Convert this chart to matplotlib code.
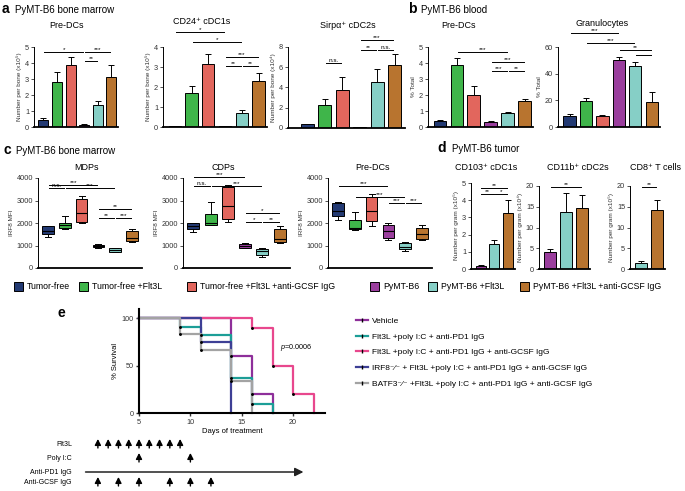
import numpy as np
import matplotlib
matplotlib.use('Agg')
import matplotlib.pyplot as plt
from matplotlib.patches import Rectangle
from matplotlib.lines import Line2D

plt.rcParams['font.family'] = ['Liberation Sans', 'DejaVu Sans']
plt.rcParams['mathtext.fontset'] = 'custom'
plt.rcParams['mathtext.rm'] = 'Liberation Sans'
plt.rcParams['mathtext.it'] = 'Liberation Sans:italic'

W, H = 685, 491

# grupos e cores
grupos = ['Tumor-free', 'Tumor-free +Flt3L', 'Tumor-free +Flt3L +anti-GCSF IgG',
          'PyMT-B6', 'PyMT-B6 +Flt3L', 'PyMT-B6 +Flt3L +anti-GCSF IgG']
cores = ['#233a73', '#3fb54a', '#e2665d', '#9a3e9d', '#86cfc6', '#b8742f']

# painel a - medula ossea (media, erro)
a_predc = [0.45, 2.8, 3.85, 0.15, 1.4, 3.15]
a_predc_err = [0.1, 0.65, 0.5, 0.05, 0.2, 0.7]
a_cd24 = [0.03, 1.68, 3.15, 0.04, 0.7, 2.28]
a_cd24_err = [0.0, 0.37, 0.5, 0.0, 0.13, 0.4]
a_sirpa = [0.35, 2.25, 3.8, 0.1, 4.5, 6.2]
a_sirpa_err = [0.05, 0.6, 1.25, 0.02, 1.3, 1.1]

# painel b - sangue
b_predc = [0.35, 3.88, 1.98, 0.33, 0.9, 1.6]
b_predc_err = [0.1, 0.42, 0.57, 0.05, 0.05, 0.15]
b_gran = [8, 19.5, 8, 50.5, 45.5, 19]
b_gran_err = [1.5, 2.5, 1, 2, 3, 7]

# painel c - IRF8 MFI (min, q1, mediana, q3, max)
c_mdp = [[1400, 1500, 1650, 1850, 1880], [1750, 1780, 1900, 2000, 2330],
         [2000, 2050, 2450, 3050, 3200], [900, 920, 980, 1030, 1050],
         [700, 730, 800, 870, 900], [1150, 1200, 1330, 1650, 1720]]
c_cdp = [[1620, 1750, 1870, 1980, 2020], [1900, 1930, 1980, 2400, 2950],
         [2050, 2200, 2750, 3600, 3680], [880, 900, 980, 1080, 1120],
         [500, 600, 750, 850, 900], [1100, 1150, 1270, 1750, 1850]]
c_predc = [[2150, 2300, 2550, 2900, 2950], [1700, 1750, 1800, 2150, 2500],
           [1850, 2100, 2550, 3150, 3300], [1250, 1350, 1650, 1900, 2000],
           [750, 850, 950, 1100, 1150], [1250, 1300, 1500, 1800, 1900]]

# painel d - tumor
d_cd103 = [0.18, 1.43, 3.25]
d_cd103_err = [0.04, 0.27, 0.75]
d_cd11b = [4.2, 13.8, 14.8]
d_cd11b_err = [0.6, 4.4, 3.1]
d_cd8 = [1.5, 14.2]
d_cd8_err = [0.5, 2.4]

# painel e - sobrevivencia
sv_nomes = ['Vehicle', 'Flt3L +poly I:C + anti-PD1 IgG',
            'Flt3L +poly I:C + anti-PD1 IgG + anti-GCSF IgG',
            'IRF8\u207b\u2044\u207b + Flt3L +poly I:C + anti-PD1 IgG + anti-GCSF IgG',
            'BATF3\u207b\u2044\u207b +Flt3L +poly I:C + anti-PD1 IgG + anti-GCSF IgG']
sv_cores = ['#8e2f9a', '#1c9e97', '#e8478d', '#3d3f95', '#a3a3a3']
sv_dias = [[5, 14, 16, 18], [5, 9, 11, 14, 16, 18], [5, 16, 18, 20, 22],
           [5, 11, 14], [5, 9, 11, 14, 16]]
sv_pct = [[100, 60, 20, 0], [100, 90.9, 81.8, 36.4, 9.1, 0],
          [100, 90, 50, 20, 0], [100, 75, 0], [100, 83.3, 66.7, 33.3, 0]]

# esquema de tratamento (dias)
dias_flt3l = [1, 2, 3, 4, 5, 6, 7, 8, 9]
dias_polyic = [5, 10]
dias_pd1 = [-0.2, 21]
dias_gcsf = [1, 3, 5, 8, 10, 12]

fig = plt.figure(figsize=(W / 100, H / 100), dpi=100)


def eixo(x0, x1, ytop, ybot):
    return fig.add_axes([x0 / W, 1 - ybot / H, (x1 - x0) / W, (ybot - ytop) / H])


def estilo(ax, ylabel):
    for s in ['top', 'right']:
        ax.spines[s].set_visible(False)
    ax.spines['left'].set_linewidth(0.7)
    ax.spines['bottom'].set_linewidth(1.3)
    ax.tick_params(labelsize=5.3, width=0.6, length=2, pad=1.5, colors='#333333')
    ax.set_xticks([])
    ax.set_ylabel(ylabel, fontsize=4.6, labelpad=2, color='#333333')


def colchete(ax, i, j, y, txt):
    ax.plot([i + 0.06, j - 0.06], [y, y], color='k', lw=0.7, clip_on=False)
    ax.text((i + j) / 2, y, txt, ha='center', va='bottom', fontsize=4.6, clip_on=False)


def barras(ax, vals, errs, cols, ylim, yticks, ylabel, xlim):
    x = np.arange(len(vals))
    ax.bar(x, vals, width=0.74, color=cols, edgecolor='k', lw=0.7, zorder=2)
    ax.errorbar(x, vals, yerr=[np.zeros(len(vals)), errs], fmt='none', ecolor='k',
                elinewidth=0.7, capsize=2, capthick=0.7, zorder=1)
    ax.set_ylim(*ylim)
    ax.set_xlim(*xlim)
    ax.set_yticks(yticks)
    estilo(ax, ylabel)


def caixas(ax, stats_raw, ylabel):
    stats = [dict(whislo=s[0], q1=s[1], med=s[2], q3=s[3], whishi=s[4]) for s in stats_raw]
    bp = ax.bxp(stats, positions=range(len(stats)), widths=0.7, patch_artist=True,
                showfliers=False, capwidths=0.35,
                boxprops=dict(lw=0.7), medianprops=dict(color='k', lw=0.8),
                whiskerprops=dict(lw=0.7), capprops=dict(lw=0.7))
    for p, c in zip(bp['boxes'], cores):
        p.set_facecolor(c)
    ax.set_ylim(0, 4000)
    ax.set_xlim(-0.6, 5.6)
    ax.set_yticks([0, 1000, 2000, 3000, 4000])
    estilo(ax, ylabel)


def titulo(x, y, txt):
    fig.text(x / W, 1 - y / H, txt, fontsize=6.5, ha='center', va='center')


# ---------- painel a ----------
fig.text(2 / W, 1 - 9 / H, 'a', fontsize=10, fontweight='bold', va='center')
fig.text(15 / W, 1 - 10 / H, 'PyMT-B6 bone marrow', fontsize=7, va='center')

ax = eixo(34, 118, 47, 127)
barras(ax, a_predc, a_predc_err, cores, (0, 5), range(6), 'Number per bone (x10\u2075)', (-0.7, 5.5))
colchete(ax, 0, 3, 4.7, '*')
colchete(ax, 3, 5, 4.7, '***')
colchete(ax, 3, 4, 4.1, '**')
titulo(67, 25, 'Pre-DCs')

ax = eixo(163, 267, 47, 127)
barras(ax, a_cd24, a_cd24_err, cores, (0, 4), range(5), 'Number per bone (x10\u2075)', (-0.7, 5.5))
colchete(ax, 0, 3, 4.75, '*')
colchete(ax, 1, 4, 4.25, '*')
colchete(ax, 3, 5, 3.5, '***')
colchete(ax, 3, 4, 3.05, '**')
colchete(ax, 4, 5, 3.05, '**')
titulo(202, 22, 'CD24\u207a cDC1s')

ax = eixo(288, 405, 47, 128)
barras(ax, a_sirpa, a_sirpa_err, cores, (0, 8), [0, 2, 4, 6, 8], 'Number per bone (x10\u2074)', (-1.1, 5.6))
colchete(ax, 1, 2, 6.4, 'n.s.')
colchete(ax, 3, 5, 8.7, '***')
colchete(ax, 3, 4, 7.7, '**')
colchete(ax, 4, 5, 7.7, 'n.s.')
titulo(348, 25, 'Sirp\u03b1\u207a cDC2s')

# ---------- painel b ----------
fig.text(408 / W, 1 - 9 / H, 'b', fontsize=10, fontweight='bold', va='center')
fig.text(421 / W, 1 - 10 / H, 'PyMT-B6 blood', fontsize=7, va='center')

ax = eixo(428, 533, 47, 127)
barras(ax, b_predc, b_predc_err, cores, (0, 5), range(6), '% Total', (-0.7, 5.5))
colchete(ax, 1, 4, 4.7, '***')
colchete(ax, 3, 5, 4.05, '***')
colchete(ax, 3, 4, 3.5, '***')
colchete(ax, 4, 5, 3.5, '**')
titulo(458, 25, 'Pre-DCs')

ax = eixo(558, 660, 47, 127)
barras(ax, b_gran, b_gran_err, cores, (0, 60), [0, 20, 40, 60], '% Total', (-0.7, 5.5))
colchete(ax, 0, 3, 70.5, '***')
colchete(ax, 1, 4, 63, '***')
colchete(ax, 3, 5, 57.5, '**')
colchete(ax, 4, 5, 54, '')
titulo(602, 23, 'Granulocytes')

# ---------- painel c ----------
fig.text(3 / W, 1 - 150 / H, 'c', fontsize=10, fontweight='bold', va='center')
fig.text(16 / W, 1 - 151 / H, 'PyMT-B6 bone marrow', fontsize=7, va='center')

ax = eixo(38, 142, 178, 268)
caixas(ax, c_mdp, 'IRF8 MFI')
colchete(ax, 0, 3, 3690, '***')
colchete(ax, 0, 1, 3540, 'n.s.')
colchete(ax, 1, 4, 3540, '***')
colchete(ax, 3, 5, 2620, '**')
colchete(ax, 3, 4, 2220, '**')
colchete(ax, 4, 5, 2220, '***')
titulo(87, 168, 'MDPs')

ax = eixo(183, 290, 178, 268)
caixas(ax, c_cdp, 'IRF8 MFI')
colchete(ax, 0, 3, 4040, '***')
colchete(ax, 0, 1, 3660, 'n.s.')
colchete(ax, 1, 4, 3660, '***')
colchete(ax, 3, 5, 2460, '*')
colchete(ax, 3, 4, 2060, '*')
colchete(ax, 4, 5, 2060, '**')
titulo(223, 167, 'CDPs')

ax = eixo(328, 432, 178, 268)
caixas(ax, c_predc, 'IRF8 MFI')
colchete(ax, 0, 3, 3660, '***')
colchete(ax, 1, 4, 3170, '***')
colchete(ax, 3, 4, 2880, '***')
colchete(ax, 4, 5, 2880, '***')
titulo(372, 168, 'Pre-DCs')

# ---------- painel d ----------
fig.text(437 / W, 1 - 148 / H, 'd', fontsize=10, fontweight='bold', va='center')
fig.text(452 / W, 1 - 149 / H, 'PyMT-B6 tumor', fontsize=7, va='center')

ax = eixo(471, 515, 183, 269)
barras(ax, d_cd103, d_cd103_err, cores[3:], (0, 5), range(6), 'Number per gram (x10\u2075)', (-0.7, 2.5))
colchete(ax, 0, 2, 4.73, '**')
colchete(ax, 0, 1, 4.35, '**')
colchete(ax, 1, 2, 4.35, '*')
titulo(486, 168, 'CD103\u207a cDC1s')

ax = eixo(539, 590, 186, 269)
barras(ax, d_cd11b, d_cd11b_err, cores[3:], (0, 20), [0, 5, 10, 15, 20], 'Number per gram (x10\u2074)', (-0.7, 2.5))
colchete(ax, 0, 2, 19.7, '**')
titulo(578, 168, 'CD11b\u207a cDC2s')

ax = eixo(630, 665, 186, 269)
barras(ax, d_cd8, d_cd8_err, cores[4:], (0, 20), [0, 5, 10, 15, 20], 'Number per gram (x10\u2075)', (-0.7, 1.5))
colchete(ax, 0, 1, 19.8, '**')
titulo(656, 168, 'CD8\u207a T cells')

# ---------- legenda dos grupos ----------
leg_x = [14, 79, 187, 370, 428, 520]
for gx, g, c in zip(leg_x, grupos, cores):
    fig.patches.append(Rectangle((gx / W, 1 - 291 / H), 9 / W, 9 / H, transform=fig.transFigure,
                                 facecolor=c, edgecolor='k', lw=0.7))
    fig.text((gx + 13) / W, 1 - 286.5 / H, g, fontsize=6.3, va='center')

# ---------- painel e ----------
fig.text(58 / W, 1 - 313 / H, 'e', fontsize=10, fontweight='bold', va='center')

ax = eixo(139, 325, 309, 413)
for d, s, c in zip(sv_dias, sv_pct, sv_cores):
    ax.step(d, s, where='post', color=c, lw=1.6, clip_on=False)
    ax.plot(d[1:-1], s[1:-1], 'o', color='k', ms=1.1, clip_on=False, zorder=5)
ax.set_xlim(5, 23.1)
ax.set_ylim(0, 109.5)
ax.set_xticks([5, 10, 15, 20])
ax.set_yticks([0, 50, 100])
for s in ['top', 'right']:
    ax.spines[s].set_visible(False)
ax.spines['left'].set_linewidth(1.5)
ax.spines['bottom'].set_linewidth(1.5)
ax.tick_params(labelsize=5.2, width=1, length=2.5, pad=1.5, colors='#333333')
ax.set_xlabel('Days of treatment', fontsize=5.5, labelpad=1.5)
ax.set_ylabel('% Survival', fontsize=5.5, labelpad=2)
ax.text(18.7, 69, '$p$=0.0006', fontsize=5.2, va='center')

handles = [Line2D([0], [0], color=c, lw=1.6, marker='|', mec='k', ms=3) for c in sv_cores]
fig.legend(handles, sv_nomes, loc='upper left', bbox_to_anchor=(356 / W, 1 - 317 / H),
           frameon=False, fontsize=6, handlelength=1.4, handletextpad=0.5,
           labelspacing=0.95, borderaxespad=0, borderpad=0)

# esquema de tratamento
axs = eixo(139, 325, 430, 491)
axs.set_xlim(5, 23.1)
axs.set_ylim(491, 430)
axs.axis('off')
linhas = [('Flt3L', 444, dias_flt3l), ('Poly I:C', 458, dias_polyic), ('Anti-GCSF IgG', 482, dias_gcsf)]
for nome, yy, dias in linhas:
    fig.text(72 / W, 1 - yy / H, nome, fontsize=5, ha='right', va='center')
    for dd in dias:
        axs.annotate('', xy=(dd, yy - 5), xytext=(dd, yy + 4), annotation_clip=False,
                     arrowprops=dict(arrowstyle='-|>,head_length=0.35,head_width=0.18',
                                     color='k', lw=1, shrinkA=0, shrinkB=0))
fig.text(72 / W, 1 - 472 / H, 'Anti-PD1 IgG', fontsize=5, ha='right', va='center')
axs.annotate('', xy=(dias_pd1[1], 472), xytext=(dias_pd1[0], 472), annotation_clip=False,
             arrowprops=dict(arrowstyle='-|>,head_length=0.5,head_width=0.25',
                             color='#222222', lw=1.1, shrinkA=0, shrinkB=0))

fig.savefig('out.png', dpi=100)
